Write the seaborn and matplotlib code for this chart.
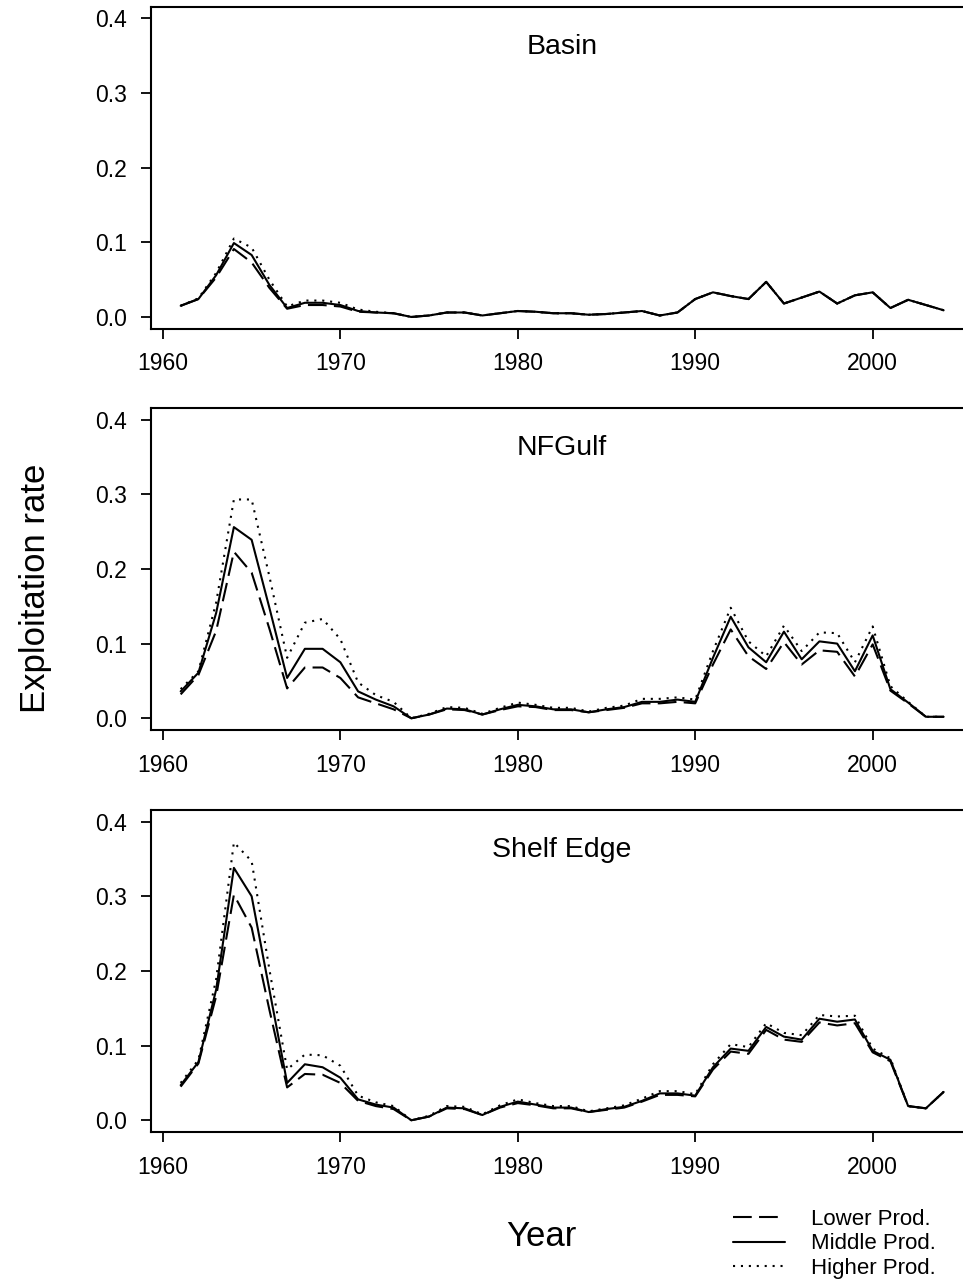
import numpy as np
import pandas as pd
import matplotlib
matplotlib.use("Agg")
import matplotlib.pyplot as plt
import seaborn as sns

# %%
years = list(range(1961, 2005))

basin_lower = [0.015, 0.024, 0.053, 0.091, 0.073, 0.039, 0.011, 0.016, 0.016, 0.014,
               0.007, 0.006, 0.005, 0.000, 0.002, 0.006, 0.006, 0.002, 0.005, 0.008,
               0.007, 0.005, 0.005, 0.003, 0.004, 0.006, 0.008, 0.002, 0.006, 0.024,
               0.033, 0.028, 0.024, 0.047, 0.018, 0.026, 0.034, 0.018, 0.029, 0.033,
               0.012, 0.023, 0.016, 0.009]
basin_middle = [0.015, 0.024, 0.056, 0.099, 0.083, 0.043, 0.012, 0.019, 0.019, 0.016,
                0.008, 0.006, 0.005, 0.000, 0.002, 0.006, 0.006, 0.002, 0.005, 0.008,
                0.007, 0.005, 0.005, 0.003, 0.004, 0.006, 0.008, 0.002, 0.006, 0.024,
                0.033, 0.028, 0.024, 0.047, 0.018, 0.026, 0.034, 0.018, 0.029, 0.033,
                0.012, 0.023, 0.016, 0.009]
basin_higher = [0.015, 0.025, 0.059, 0.105, 0.093, 0.050, 0.014, 0.022, 0.022, 0.019,
                0.010, 0.007, 0.005, 0.000, 0.002, 0.006, 0.006, 0.002, 0.005, 0.008,
                0.007, 0.005, 0.005, 0.003, 0.004, 0.006, 0.008, 0.002, 0.006, 0.024,
                0.033, 0.028, 0.024, 0.047, 0.018, 0.026, 0.034, 0.018, 0.029, 0.033,
                0.012, 0.023, 0.016, 0.009]

nfgulf_lower = [0.032, 0.058, 0.117, 0.223, 0.195, 0.120, 0.040, 0.068, 0.068, 0.054,
                0.028, 0.020, 0.012, 0.000, 0.005, 0.012, 0.011, 0.005, 0.011, 0.016,
                0.015, 0.011, 0.011, 0.008, 0.011, 0.014, 0.020, 0.020, 0.022, 0.020,
                0.072, 0.119, 0.083, 0.066, 0.102, 0.072, 0.091, 0.089, 0.056, 0.099,
                0.037, 0.020, 0.002, 0.002]
nfgulf_middle = [0.036, 0.061, 0.141, 0.256, 0.239, 0.148, 0.054, 0.093, 0.093, 0.075,
                 0.036, 0.025, 0.016, 0.000, 0.005, 0.013, 0.012, 0.005, 0.012, 0.018,
                 0.016, 0.012, 0.012, 0.008, 0.012, 0.015, 0.022, 0.022, 0.025, 0.022,
                 0.081, 0.136, 0.095, 0.075, 0.116, 0.079, 0.103, 0.100, 0.063, 0.111,
                 0.039, 0.021, 0.002, 0.002]
nfgulf_higher = [0.039, 0.063, 0.155, 0.293, 0.293, 0.190, 0.081, 0.128, 0.133, 0.106,
                 0.048, 0.031, 0.022, 0.000, 0.006, 0.015, 0.014, 0.006, 0.014, 0.021,
                 0.018, 0.014, 0.014, 0.009, 0.014, 0.017, 0.026, 0.026, 0.028, 0.025,
                 0.090, 0.148, 0.103, 0.083, 0.124, 0.090, 0.115, 0.114, 0.075, 0.123,
                 0.043, 0.022, 0.002, 0.002]

shelf_lower = [0.045, 0.076, 0.166, 0.302, 0.258, 0.148, 0.044, 0.062, 0.061, 0.050,
               0.026, 0.019, 0.015, 0.000, 0.005, 0.016, 0.015, 0.007, 0.017, 0.023,
               0.020, 0.016, 0.016, 0.011, 0.014, 0.017, 0.025, 0.034, 0.034, 0.032,
               0.068, 0.092, 0.089, 0.121, 0.108, 0.105, 0.131, 0.127, 0.130, 0.091,
               0.079, 0.019, 0.016, 0.038]
shelf_middle = [0.047, 0.078, 0.175, 0.338, 0.300, 0.175, 0.050, 0.075, 0.071, 0.057,
                0.028, 0.021, 0.017, 0.000, 0.005, 0.017, 0.016, 0.007, 0.018, 0.025,
                0.021, 0.017, 0.017, 0.011, 0.015, 0.018, 0.026, 0.036, 0.036, 0.033,
                0.071, 0.096, 0.093, 0.125, 0.112, 0.108, 0.136, 0.132, 0.135, 0.093,
                0.081, 0.019, 0.016, 0.038]
shelf_higher = [0.050, 0.081, 0.189, 0.372, 0.347, 0.202, 0.068, 0.088, 0.087, 0.073,
                0.033, 0.024, 0.019, 0.000, 0.006, 0.019, 0.018, 0.008, 0.020, 0.028,
                0.023, 0.019, 0.019, 0.012, 0.016, 0.020, 0.029, 0.039, 0.039, 0.035,
                0.075, 0.102, 0.098, 0.130, 0.117, 0.114, 0.141, 0.139, 0.140, 0.096,
                0.083, 0.019, 0.016, 0.038]

regions = ["Basin", "NFGulf", "Shelf Edge"]
scenarios = ["Lower Prod.", "Middle Prod.", "Higher Prod."]
series = {
    "Basin": [basin_lower, basin_middle, basin_higher],
    "NFGulf": [nfgulf_lower, nfgulf_middle, nfgulf_higher],
    "Shelf Edge": [shelf_lower, shelf_middle, shelf_higher],
}
x_ticks = [1960, 1970, 1980, 1990, 2000]
y_ticks = [0.0, 0.1, 0.2, 0.3, 0.4]

# %%
sns.set_style("ticks")
plt.rcParams["font.family"] = ["Liberation Sans", "DejaVu Sans"]
plt.rcParams["text.color"] = "black"
plt.rcParams["axes.labelcolor"] = "black"

rows = []
for reg in regions:
    for scen, vals in zip(scenarios, series[reg]):
        for yr, v in zip(years, vals):
            rows.append({"region": reg, "scenario": scen, "year": yr, "rate": v})
df = pd.DataFrame(rows)

# tracejado longo / continua / pontilhada
estilos = {"Lower Prod.": (9, 3.5), "Middle Prod.": "", "Higher Prod.": (1, 2.8)}

W, H = 963, 1287
fig = plt.figure(figsize=(W / 100, H / 100), dpi=100)

tops = [6.7, 408, 810]
altura = 322
esq = 150.5

axes = []
for reg, top in zip(regions, tops):
    ax = fig.add_axes([esq / W, 1 - (top + altura) / H, (W - esq) / W + 0.002, altura / H])
    sns.lineplot(
        data=df[df.region == reg], x="year", y="rate", style="scenario",
        style_order=scenarios, dashes=estilos, color="black", linewidth=1.5,
        legend=False, ax=ax,
    )
    ax.set_xlim(1959.3, 2005.2)
    ax.set_ylim(-0.0157, 0.4155)
    ax.set_xticks(x_ticks)
    ax.set_yticks(y_ticks)
    ax.set_yticklabels([f"{t:.1f}" for t in y_ticks])
    ax.tick_params(labelsize=16.5, length=7, width=1.3, pad=10, colors="black")
    ax.set(xlabel="", ylabel="")
    for s in ["left", "bottom", "top"]:
        ax.spines[s].set_visible(True)
        ax.spines[s].set_linewidth(1.5)
        ax.spines[s].set_color("black")
    ax.spines["right"].set_visible(False)
    ax.text(0.505, 0.875, reg, transform=ax.transAxes, ha="center", va="center",
            fontsize=20.5, color="black")
    axes.append(ax)

fig.text(35 / W, 1 - 588 / H, "Exploitation rate", rotation=90, ha="center",
         va="center", fontsize=25, color="black")
fig.text(541 / W, 1 - 1237 / H, "Year", ha="center", va="center", fontsize=25,
         color="black")

handles = axes[2].get_lines()[:3]
fig.legend(
    handles, scenarios, loc="upper left", bbox_to_anchor=(733 / W, 1 - 1209 / H),
    frameon=False, fontsize=16, handlelength=2.35, handletextpad=1.17,
    labelspacing=0.15, borderpad=0, borderaxespad=0, labelcolor="black",
)

fig.savefig("out.png", dpi=100)
